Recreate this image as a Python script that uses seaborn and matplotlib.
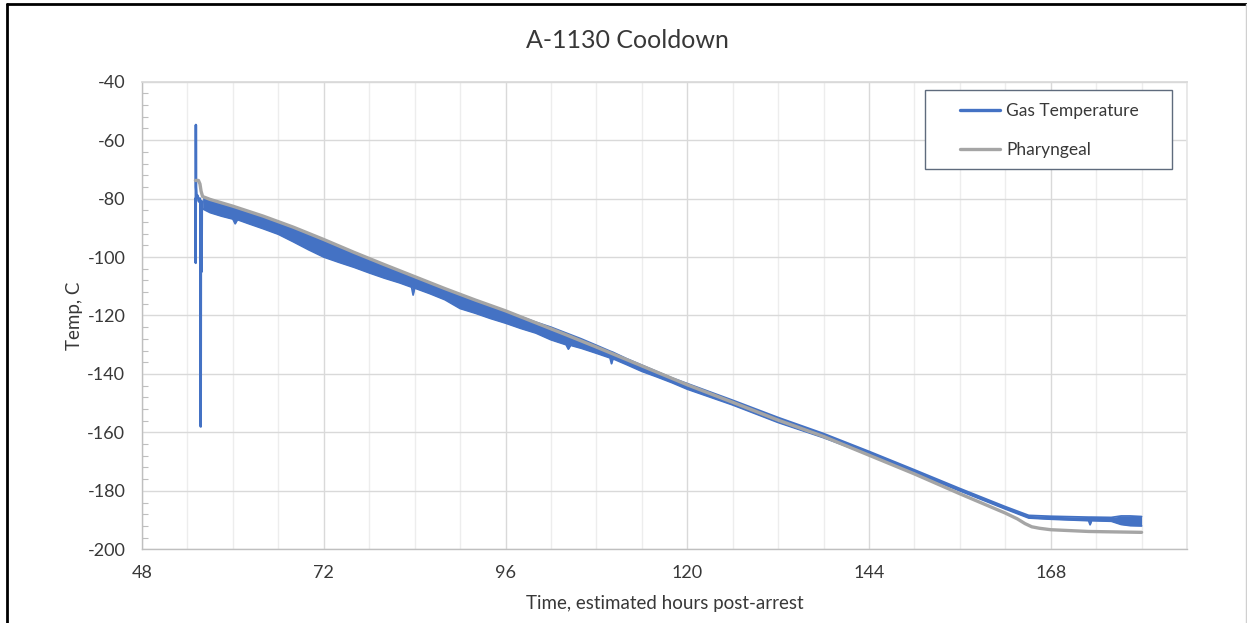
import matplotlib
matplotlib.use('Agg')
import matplotlib.pyplot as plt
import pandas as pd
import seaborn as sns
from matplotlib.lines import Line2D
from matplotlib.patches import Rectangle
from matplotlib.ticker import MultipleLocator

# start-up transient of the gas probe
spike_hours = [55.06, 55.09, 55.11, 55.13, 55.2, 55.35, 55.5, 55.65, 55.72,
               55.75, 55.78, 55.84, 55.87, 55.9, 56.0]
spike_temps = [-80, -102, -54.8, -76, -79, -79, -81, -80, -82,
               -158, -81, -82, -105, -82, -81]

# gas temperature noise band (upper / lower envelope)
gas_hours = [56.0, 57.0, 58.5, 60.0, 60.3, 60.6, 62.0, 64.0, 66.0, 68.0,
             70.0, 72.0, 74.0, 76.0, 78.0, 80.0, 82.0, 83.6, 83.8, 84.0,
             86.0, 88.0, 90.0, 92.0, 94.0, 96.0, 98.0, 100.0, 102.0, 104.0,
             104.3, 104.6, 106.0, 108.0, 109.8, 110.0, 110.2, 112.0, 114.0, 116.0,
             118.0, 120.0, 126.0, 132.0, 138.0, 144.0, 150.0, 156.0, 162.0, 165.1,
             168.0, 173.0, 173.2, 173.4, 176.0, 177.3, 178.5, 180.0]
gas_high = [-79.3, -80.3, -81.5, -82.8, -83.0, -83.3, -84.5, -86.2, -88.0, -90.0,
            -92.1, -94.2, -96.4, -98.6, -100.6, -102.8, -104.8, -106.4, -106.6, -106.8,
            -108.8, -110.9, -112.9, -114.8, -116.6, -118.5, -120.4, -122.3, -124.0, -126.0,
            -126.3, -126.6, -128.0, -130.2, -132.2, -132.4, -132.6, -134.8, -137.0, -139.2,
            -141.4, -143.3, -149.0, -154.9, -160.4, -166.5, -172.8, -179.2, -185.4, -188.4,
            -188.7, -189.0, -189.0, -189.0, -189.1, -188.6, -188.6, -188.8]
gas_low = [-83.5, -84.8, -86.0, -87.0, -88.6, -87.2, -88.5, -90.3, -92.2, -94.8,
           -97.5, -100.0, -101.8, -103.5, -105.4, -107.2, -108.8, -110.3, -113.0, -110.6,
           -112.5, -114.6, -117.6, -119.2, -121.0, -122.6, -124.4, -126.0, -128.3, -130.0,
           -131.5, -130.2, -131.2, -132.9, -134.5, -136.5, -134.8, -136.8, -139.1, -141.0,
           -143.0, -145.2, -150.6, -156.6, -161.8, -167.6, -173.8, -180.0, -186.2, -189.3,
           -189.7, -190.2, -191.6, -190.2, -190.4, -191.5, -191.9, -192.0]

# pharyngeal probe
phar_hours = [55.05, 55.45, 55.65, 55.8, 56.0, 57.0, 60.0, 64.0, 68.0, 72.0,
              76.0, 80.0, 84.0, 88.0, 92.0, 96.0, 100.0, 104.0, 108.0, 112.0,
              116.0, 120.0, 126.0, 132.0, 138.0, 144.0, 150.0, 156.0, 160.0, 162.0,
              163.6, 164.6, 165.5, 166.5, 168.0, 173.0, 180.0]
phar_temps = [-73.8, -73.8, -75.0, -77.5, -79.3, -80.3, -82.6, -86.0, -89.8, -94.0,
              -98.4, -102.6, -106.7, -110.8, -114.7, -118.4, -122.5, -126.6, -130.8, -135.1,
              -139.4, -143.7, -149.7, -155.8, -161.4, -167.8, -174.2, -181.0, -185.4, -187.6,
              -189.6, -191.2, -192.3, -192.8, -193.3, -193.9, -194.2]

x_ticks = [48, 72, 96, 120, 144, 168]
y_ticks = [-200, -180, -160, -140, -120, -100, -80, -60, -40]

BLUE = '#4472C4'
GREY = '#A5A5A5'
TEXT = '#383838'

sns.set_theme(style='white')
plt.rcParams['font.family'] = ['Lato', 'DejaVu Sans']
plt.rcParams['axes.unicode_minus'] = False

fig = plt.figure(figsize=(12.47, 6.23), dpi=100)
ax = fig.add_axes([0.1139, 0.1183, 0.838, 0.7506])

df_spike = pd.DataFrame({'hours': spike_hours, 'temp': spike_temps})
df_phar = pd.DataFrame({'hours': phar_hours, 'temp': phar_temps})

ax.fill_between(gas_hours, gas_low, gas_high, color=BLUE, lw=0, zorder=3)
ax.plot(gas_hours, gas_high, color=BLUE, lw=1.3, zorder=3)
ax.plot(gas_hours, gas_low, color=BLUE, lw=1.3, zorder=3)
sns.lineplot(data=df_spike, x='hours', y='temp', color=BLUE, lw=1.8,
             estimator=None, sort=False, ax=ax, zorder=3)
sns.lineplot(data=df_phar, x='hours', y='temp', color=GREY, lw=2.4,
             estimator=None, ax=ax, zorder=4)

ax.set_xlim(48, 186)
ax.set_ylim(-200, -40)
ax.set_xticks(x_ticks)
ax.xaxis.set_minor_locator(MultipleLocator(6))
ax.set_yticks(y_ticks)
ax.yaxis.set_minor_locator(MultipleLocator(4))

ax.grid(which='major', axis='both', color='#D9D9D9', lw=1.0, zorder=0)
ax.grid(which='minor', axis='x', color='#EDEDED', lw=1.0, zorder=0)
ax.set_axisbelow(True)

ax.tick_params(axis='x', which='both', length=0, pad=11, labelsize=13, colors=TEXT)
ax.tick_params(axis='y', which='major', direction='in', length=4, width=0.8,
               color='#BFBFBF', pad=12, labelsize=13, labelcolor=TEXT)
ax.tick_params(axis='y', which='minor', direction='in', length=4, width=0.8,
               color='#BFBFBF', left=True)

for side in ['left', 'bottom']:
    ax.spines[side].set_color('#BFBFBF')
    ax.spines[side].set_linewidth(1.0)
ax.spines['top'].set_color('#D9D9D9')
ax.spines['right'].set_color('#E6E6E6')

ax.set_xlabel('Time, estimated hours post-arrest', fontsize=13.5, color=TEXT)
ax.set_ylabel('Temp, C', fontsize=13.5, color=TEXT)
ax.xaxis.set_label_coords(0.5, -0.098)
ax.yaxis.set_label_coords(-0.0565, 0.5)
fig.text(0.503, 1 - 40 / 623, 'A-1130 Cooldown', ha='center', va='center',
         fontsize=18, color=TEXT)

# legend with Excel-like box
fig.patches.append(Rectangle((925 / 1247, 1 - 169.5 / 623), 247 / 1247, 79 / 623,
                             transform=fig.transFigure, facecolor='white',
                             edgecolor='#5F6B7D', lw=1.0, zorder=5))
handles = [Line2D([0], [0], color=BLUE, lw=2.4), Line2D([0], [0], color=GREY, lw=2.4)]
leg = fig.legend(handles, ['Gas Temperature', 'Pharyngeal'], loc='center left',
                 bbox_to_anchor=(960 / 1247, 1 - 130.5 / 623), frameon=False,
                 borderpad=0, borderaxespad=0, fontsize=12.5, handlelength=2.3,
                 handletextpad=0.35, labelspacing=1.35)
for t in leg.get_texts():
    t.set_color(TEXT)
leg.set_zorder(6)

# outer frame of the screenshot
fig.add_artist(Line2D([7 / 1247, 7 / 1247], [0, 1 - 4 / 623], transform=fig.transFigure,
                      color='black', lw=2))
fig.add_artist(Line2D([7 / 1247, 1], [1 - 4 / 623, 1 - 4 / 623], transform=fig.transFigure,
                      color='black', lw=2))
fig.add_artist(Line2D([1245.5 / 1247, 1245.5 / 1247], [0, 1 - 4 / 623],
                      transform=fig.transFigure, color='#D0D0D0', lw=1))

fig.savefig('out.png', dpi=100)
